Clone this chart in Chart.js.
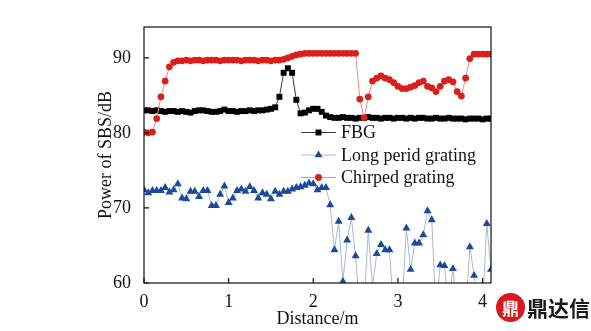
<!DOCTYPE html>
<html>
<head>
<meta charset="utf-8">
<script src="https://cdn.jsdelivr.net/npm/chart.js@4/dist/chart.umd.min.js"></script>
<style>
  html, body { margin: 0; padding: 0; background: #fff; }
  #wrap { position: relative; width: 591px; height: 331px; }
  #logo { position: absolute; left: 496px; top: 293px; width: 29px; height: 29px; border-radius: 50%;
          background: #d8191e; color: #fff; font: bold 17px "Noto Sans CJK SC"; text-align: center; line-height: 29px; }
  #brand { position: absolute; left: 527px; top: 292px; font: bold 21px "Noto Sans CJK SC"; color: #1a1a1a; }
</style>
</head>
<body>
<div id="wrap">
  <canvas id="chart" width="591" height="331"></canvas>
  <div id="logo">鼎</div>
  <div id="brand">鼎达信</div>
</div>
<script>
// Distance along the fibre (m)
const distance = [0,0.05,0.1,0.15,0.2,0.25,0.3,0.35,0.4,0.45,0.5,0.55,0.6,0.65,0.7,0.75,0.8,0.85,0.9,0.95,
  1,1.05,1.1,1.15,1.2,1.25,1.3,1.35,1.4,1.45,1.5,1.55,1.6,1.65,1.7,1.75,1.8,1.85,1.9,1.95,
  2,2.05,2.1,2.15,2.2,2.25,2.3,2.35,2.4,2.45,2.5,2.55,2.6,2.65,2.7,2.75,2.8,2.85,2.9,2.95,
  3,3.05,3.1,3.15,3.2,3.25,3.3,3.35,3.4,3.45,3.5,3.55,3.6,3.65,3.7,3.75,3.8,3.85,3.9,3.95,
  4,4.05,4.1];

// SBS power (dB) per grating type
const fbg = [83.0,83.0,82.9,83.0,82.9,82.8,82.9,82.9,82.8,82.9,82.8,82.7,82.9,83.0,83.0,82.9,82.8,82.8,82.9,83.1,
  82.9,82.9,82.8,82.9,82.9,83.0,82.9,83.0,83.0,83.1,83.2,83.4,84.8,88.0,88.6,88.0,84.4,82.6,82.7,83.0,
  83.2,83.2,82.8,82.3,82.1,82.0,82.0,82.1,82.0,82.0,81.9,82.0,82.0,82.1,82.0,82.0,81.9,82.0,82.0,81.9,
  82.0,82.0,81.9,82.0,81.9,82.0,82.0,81.9,81.9,82.0,81.9,81.9,82.0,81.9,81.9,81.9,81.8,81.9,81.9,81.9,
  81.8,81.9,81.9];

const longPeriod = [72.4,72.0,72.3,72.3,72.3,72.7,72.1,72.4,73.2,71.3,71.2,72.2,72.2,71.5,72.3,72.3,70.3,70.3,71.8,72.9,
  70.7,71.3,72.3,72.5,72.2,72.8,72.3,71.3,72.0,71.8,71.2,72.2,71.8,72.2,72.2,72.5,72.7,72.8,73.0,73.3,
  73.2,72.4,72.7,72.7,70.4,64.4,68.2,60.2,65.7,68.7,63.6,56.5,57.0,67.0,59.5,63.9,65.1,64.4,64.4,56.0,
  57.5,56.8,67.3,61.8,65.3,65.3,66.4,69.6,68.4,56.0,62.4,62.3,57.0,61.9,56.5,57.5,56.0,64.8,61.0,57.0,
  56.5,67.9,61.8];

const chirped = [80.1,80.0,80.1,81.9,84.8,86.9,88.8,89.4,89.6,89.6,89.7,89.6,89.7,89.7,89.6,89.7,89.7,89.7,89.6,89.7,
  89.7,89.7,89.7,89.6,89.7,89.7,89.7,89.6,89.7,89.7,89.6,89.7,89.7,89.8,90.0,90.2,90.4,90.5,90.6,90.6,
  90.6,90.6,90.6,90.6,90.6,90.6,90.6,90.6,90.6,90.6,90.6,84.5,82.0,84.8,86.9,87.3,87.6,87.3,87.1,86.7,
  86.2,85.9,85.9,86.1,86.3,86.7,86.9,86.2,86.0,85.5,86.2,86.9,87.1,86.8,85.5,84.9,87.3,89.9,90.5,90.5,
  90.5,90.5,90.5];

const seriesNames = ['FBG', 'Long perid grating', 'Chirped grating'];
const xTicks = [0, 1, 2, 3, 4];
const yTicks = [60, 70, 80, 90];

const SERIF = '"Liberation Serif", "Times New Roman", serif';
const toPoints = ys => distance.map((x, i) => ({ x: x, y: ys[i] }));

// frame with inward ticks, like the original plot
const framePlugin = {
    id: 'frame',
    afterDatasetsDraw(chart) {
        const { ctx, chartArea: a, scales } = chart;
        ctx.save();
        ctx.strokeStyle = '#111';
        ctx.lineWidth = 1.2;
        ctx.strokeRect(a.left, a.top, a.right - a.left, a.bottom - a.top);
        ctx.beginPath();
        yTicks.forEach(v => {
            const y = scales.y.getPixelForValue(v);
            ctx.moveTo(a.left, y); ctx.lineTo(a.left + 5, y);
        });
        xTicks.forEach(v => {
            const x = scales.x.getPixelForValue(v);
            ctx.moveTo(x, a.bottom); ctx.lineTo(x, a.bottom - 5);
        });
        ctx.stroke();
        ctx.restore();
    }
};

// legend sits inside the plot area
const legendPlugin = {
    id: 'innerLegend',
    afterDraw(chart) {
        const ctx = chart.ctx;
        const rows = [132.5, 155, 177.5];
        ctx.save();
        chart.data.datasets.forEach((ds, i) => {
            const y = rows[i];
            ctx.strokeStyle = ds.borderColor;
            ctx.lineWidth = 1;
            ctx.beginPath();
            ctx.moveTo(301, y); ctx.lineTo(336, y);
            ctx.stroke();
            ctx.fillStyle = ds.pointBackgroundColor;
            ctx.strokeStyle = ds.pointBackgroundColor;
            Chart.helpers.drawPoint(ctx, { pointStyle: ds.pointStyle, radius: ds.pointRadius, rotation: 0, borderWidth: 0 }, 318.5, y);
            ctx.fillStyle = '#111';
            ctx.font = '18px ' + SERIF;
            ctx.textBaseline = 'middle';
            ctx.fillText(ds.label, 341, y + 1);
        });
        ctx.restore();
    }
};

new Chart(document.getElementById('chart'), {
    type: 'line',
    data: {
        datasets: [
            {
                label: seriesNames[0],
                data: toPoints(fbg),
                order: 1,
                borderColor: '#3a3a3a',
                borderWidth: 1,
                pointStyle: 'rect',
                pointRadius: 4.2,
                pointBackgroundColor: '#000',
                pointBorderWidth: 0
            },
            {
                label: seriesNames[1],
                data: toPoints(longPeriod),
                order: 2,
                borderColor: '#a9b8d6',
                borderWidth: 1,
                pointStyle: 'triangle',
                pointRadius: 4.6,
                pointBackgroundColor: '#1c4a9a',
                pointBorderWidth: 0
            },
            {
                label: seriesNames[2],
                data: toPoints(chirped),
                order: 0,
                borderColor: '#ef8a80',
                borderWidth: 1,
                pointStyle: 'circle',
                pointRadius: 3.4,
                pointBackgroundColor: '#dc1e1b',
                pointBorderWidth: 0
            }
        ]
    },
    options: {
        responsive: false,
        animation: false,
        layout: { padding: { top: 27, right: 100, bottom: 0, left: 0 } },
        plugins: { legend: { display: false }, tooltip: { enabled: false } },
        scales: {
            x: {
                type: 'linear',
                min: 0,
                max: 4.1,
                afterBuildTicks: s => { s.ticks = xTicks.map(v => ({ value: v })); },
                afterFit: s => { s.height = 48; },
                grid: { display: false },
                border: { display: false },
                ticks: { color: '#111', font: { family: SERIF, size: 18 }, padding: 0, maxRotation: 0 },
                title: { display: true, text: 'Distance/m', color: '#111', font: { family: SERIF, size: 18 }, padding: { top: 0, bottom: 1 } }
            },
            y: {
                min: 60,
                max: 94.1,
                afterBuildTicks: s => { s.ticks = yTicks.map(v => ({ value: v })); },
                afterFit: s => { s.width = 144; },
                grid: { display: false },
                border: { display: false },
                ticks: { color: '#111', font: { family: SERIF, size: 18 }, padding: 5 },
                title: { display: true, text: 'Power of SBS/dB', color: '#111', font: { family: SERIF, size: 18 }, padding: { top: 95, bottom: 0 } }
            }
        }
    },
    plugins: [framePlugin, legendPlugin]
});
</script>
</body>
</html>
